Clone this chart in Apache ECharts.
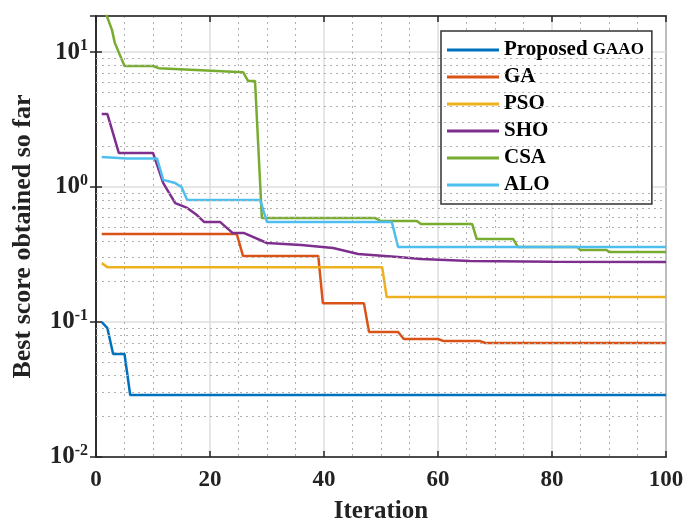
<!DOCTYPE html>
<html>
<head>
<meta charset="utf-8">
<script src="https://cdn.jsdelivr.net/npm/echarts@6/dist/echarts.min.js"></script>
<style>
  html, body { margin: 0; padding: 0; background: #fff; }
  #chart { width: 683px; height: 521px; }
</style>
</head>
<body>
<div id="chart"></div>
<script>
// values, [iteration, best score]
const seriesNames = ["Proposed GAAO", "GA", "PSO", "SHO", "CSA", "ALO"];
const colors = ["#0072BD", "#D95319", "#EDB120", "#7E2F8E", "#77AC30", "#4DBEEE"];

const proposedIter = [1, 2, 3, 5, 6, 100];
const proposedVal = [0.1, 0.09, 0.058, 0.058, 0.0288, 0.0288];

const gaIter = [1, 24.7, 25.8, 39, 39.8, 47, 47.9, 53, 54, 60, 61, 67.4, 68.3, 100];
const gaVal = [0.449, 0.449, 0.308, 0.308, 0.138, 0.138, 0.0844, 0.0844, 0.0748, 0.0748, 0.0722, 0.0722, 0.0699, 0.0699];

const psoIter = [1, 2, 50.2, 51, 100];
const psoVal = [0.273, 0.255, 0.255, 0.153, 0.153];

const shoIter = [1, 2, 4, 10, 11.8, 13.9, 16, 17.7, 19, 21.8, 24, 26, 30, 36, 41.6, 46, 53, 57, 65.6, 80, 100];
const shoVal = [3.47, 3.47, 1.79, 1.79, 1.07, 0.76, 0.70, 0.62, 0.55, 0.55, 0.456, 0.456, 0.385, 0.372, 0.353, 0.319, 0.303, 0.293, 0.283, 0.28, 0.278];

const csaIter = [1, 1.9, 2.8, 3.3, 5, 10, 11, 25.8, 26.7, 27.9, 29.1, 49, 50, 56.3, 57, 66, 66.8, 73.2, 74, 84.4, 85, 89.6, 90, 100];
const csaVal = [24, 18.5, 14.6, 11.7, 7.88, 7.88, 7.6, 7.1, 6.1, 6.1, 0.589, 0.589, 0.56, 0.56, 0.532, 0.532, 0.412, 0.412, 0.36, 0.36, 0.341, 0.341, 0.33, 0.33];

const aloIter = [1, 5.4, 10.7, 11.8, 13.9, 15, 16, 28.8, 30, 51.9, 53, 100];
const aloVal = [1.67, 1.63, 1.63, 1.13, 1.07, 1.0, 0.80, 0.80, 0.55, 0.55, 0.36, 0.36];

const xTicks = [0, 20, 40, 60, 80, 100];
const yMinorLines = [0.02, 0.03, 0.04, 0.05, 0.06, 0.07, 0.08, 0.09,
  0.2, 0.3, 0.4, 0.5, 0.6, 0.7, 0.8, 0.9,
  2, 3, 4, 5, 6, 7, 8, 9];

const allIter = [proposedIter, gaIter, psoIter, shoIter, csaIter, aloIter];
const allVal = [proposedVal, gaVal, psoVal, shoVal, csaVal, aloVal];

const font = "Liberation Serif";
const axisColor = "#262626";

function pairs(xs, ys) {
  return xs.map((x, i) => [x, ys[i]]);
}

const series = seriesNames.map((name, i) => ({
  name: name,
  type: "line",
  data: pairs(allIter[i], allVal[i]),
  showSymbol: false,
  symbol: "none",
  lineStyle: { width: 2.5, color: colors[i] },
  itemStyle: { color: colors[i] },
  z: 3
}));

// minor log grid, drawn at real values on the log axis
series.push({
  type: "line",
  data: [],
  silent: true,
  markLine: {
    silent: true,
    symbol: "none",
    label: { show: false },
    lineStyle: { type: [2, 4], color: "#b0b0b0", width: 1 },
    data: yMinorLines.map(v => ({ yAxis: v }))
  }
});

const chart = echarts.init(document.getElementById("chart"));
chart.setOption({
  animation: false,
  color: colors,
  grid: {
    left: 96, right: 17, top: 16, bottom: 64,
    outerBoundsMode: "none",
    containLabel: false,
    show: true, borderColor: axisColor, borderWidth: 1.5
  },
  legend: {
    orient: "vertical",
    left: 441, top: 31,
    data: seriesNames,
    icon: "rect",
    itemWidth: 52, itemHeight: 3,
    itemGap: 5,
    padding: [8, 8, 8, 6],
    backgroundColor: "#fff",
    borderColor: "#333",
    borderWidth: 1.5,
    textStyle: {
      fontFamily: font, fontWeight: "bold", fontSize: 21, color: "#000", lineHeight: 22,
      rich: { g: { fontFamily: font, fontWeight: "bold", fontSize: 17, color: "#000" } }
    },
    formatter: function (n) {
      return n === "Proposed GAAO" ? "Proposed {g|GAAO}" : n;
    }
  },
  xAxis: [{
    type: "value", min: 0, max: 100, interval: 20,
    name: "Iteration", nameLocation: "middle", nameGap: 42,
    nameTextStyle: { fontFamily: font, fontWeight: "bold", fontSize: 25, color: "#222" },
    axisLine: { show: true, lineStyle: { color: axisColor, width: 1.5 } },
    axisTick: { show: true, inside: true, length: 6, lineStyle: { color: axisColor, width: 1.5 } },
    axisLabel: { fontFamily: font, fontWeight: "bold", fontSize: 23, color: "#222", margin: 12,
      customValues: xTicks },
    splitLine: { show: true, lineStyle: { color: "#dedede", width: 1.5 } },
    minorTick: { show: false, splitNumber: 4 },
    minorSplitLine: { show: true, lineStyle: { type: [2, 4], color: "#b0b0b0", width: 1 } }
  }, {
    type: "value", min: 0, max: 100, interval: 20, position: "top",
    axisLine: { show: true, lineStyle: { color: axisColor, width: 1.5 } },
    axisTick: { show: true, inside: true, length: 6, lineStyle: { color: axisColor, width: 1.5 } },
    axisLabel: { show: false },
    splitLine: { show: false }
  }],
  yAxis: [{
    type: "log", logBase: 10, min: 0.01, max: 18.5,
    name: "Best score obtained so far", nameLocation: "middle", nameGap: 60,
    nameTextStyle: { fontFamily: font, fontWeight: "bold", fontSize: 26, color: "#222" },
    axisLine: { show: true, lineStyle: { color: axisColor, width: 1.5 } },
    axisTick: { show: true, inside: true, length: 6, lineStyle: { color: axisColor, width: 1.5 } },
    axisLabel: {
      fontFamily: font, fontWeight: "bold", fontSize: 25, color: "#222", margin: 8,
      showMaxLabel: false,
      formatter: function (v) {
        const e = Math.round(Math.log10(v));
        if (Math.abs(Math.log10(v) - e) > 1e-6) return "";
        return "10{s|" + e + "}";
      },
      rich: {
        s: { fontFamily: font, fontWeight: "bold", fontSize: 16, color: "#222", verticalAlign: "top", padding: [0, 0, 12, 0] }
      }
    },
    splitLine: { show: true, lineStyle: { color: "#dedede", width: 1.5 } }
  }, {
    type: "log", logBase: 10, min: 0.01, max: 18.5, position: "right",
    axisLine: { show: true, lineStyle: { color: axisColor, width: 1.5 } },
    axisTick: { show: true, inside: true, length: 6, lineStyle: { color: axisColor, width: 1.5 } },
    axisLabel: { show: false },
    splitLine: { show: false }
  }],
  series: series
});
</script>
</body>
</html>
